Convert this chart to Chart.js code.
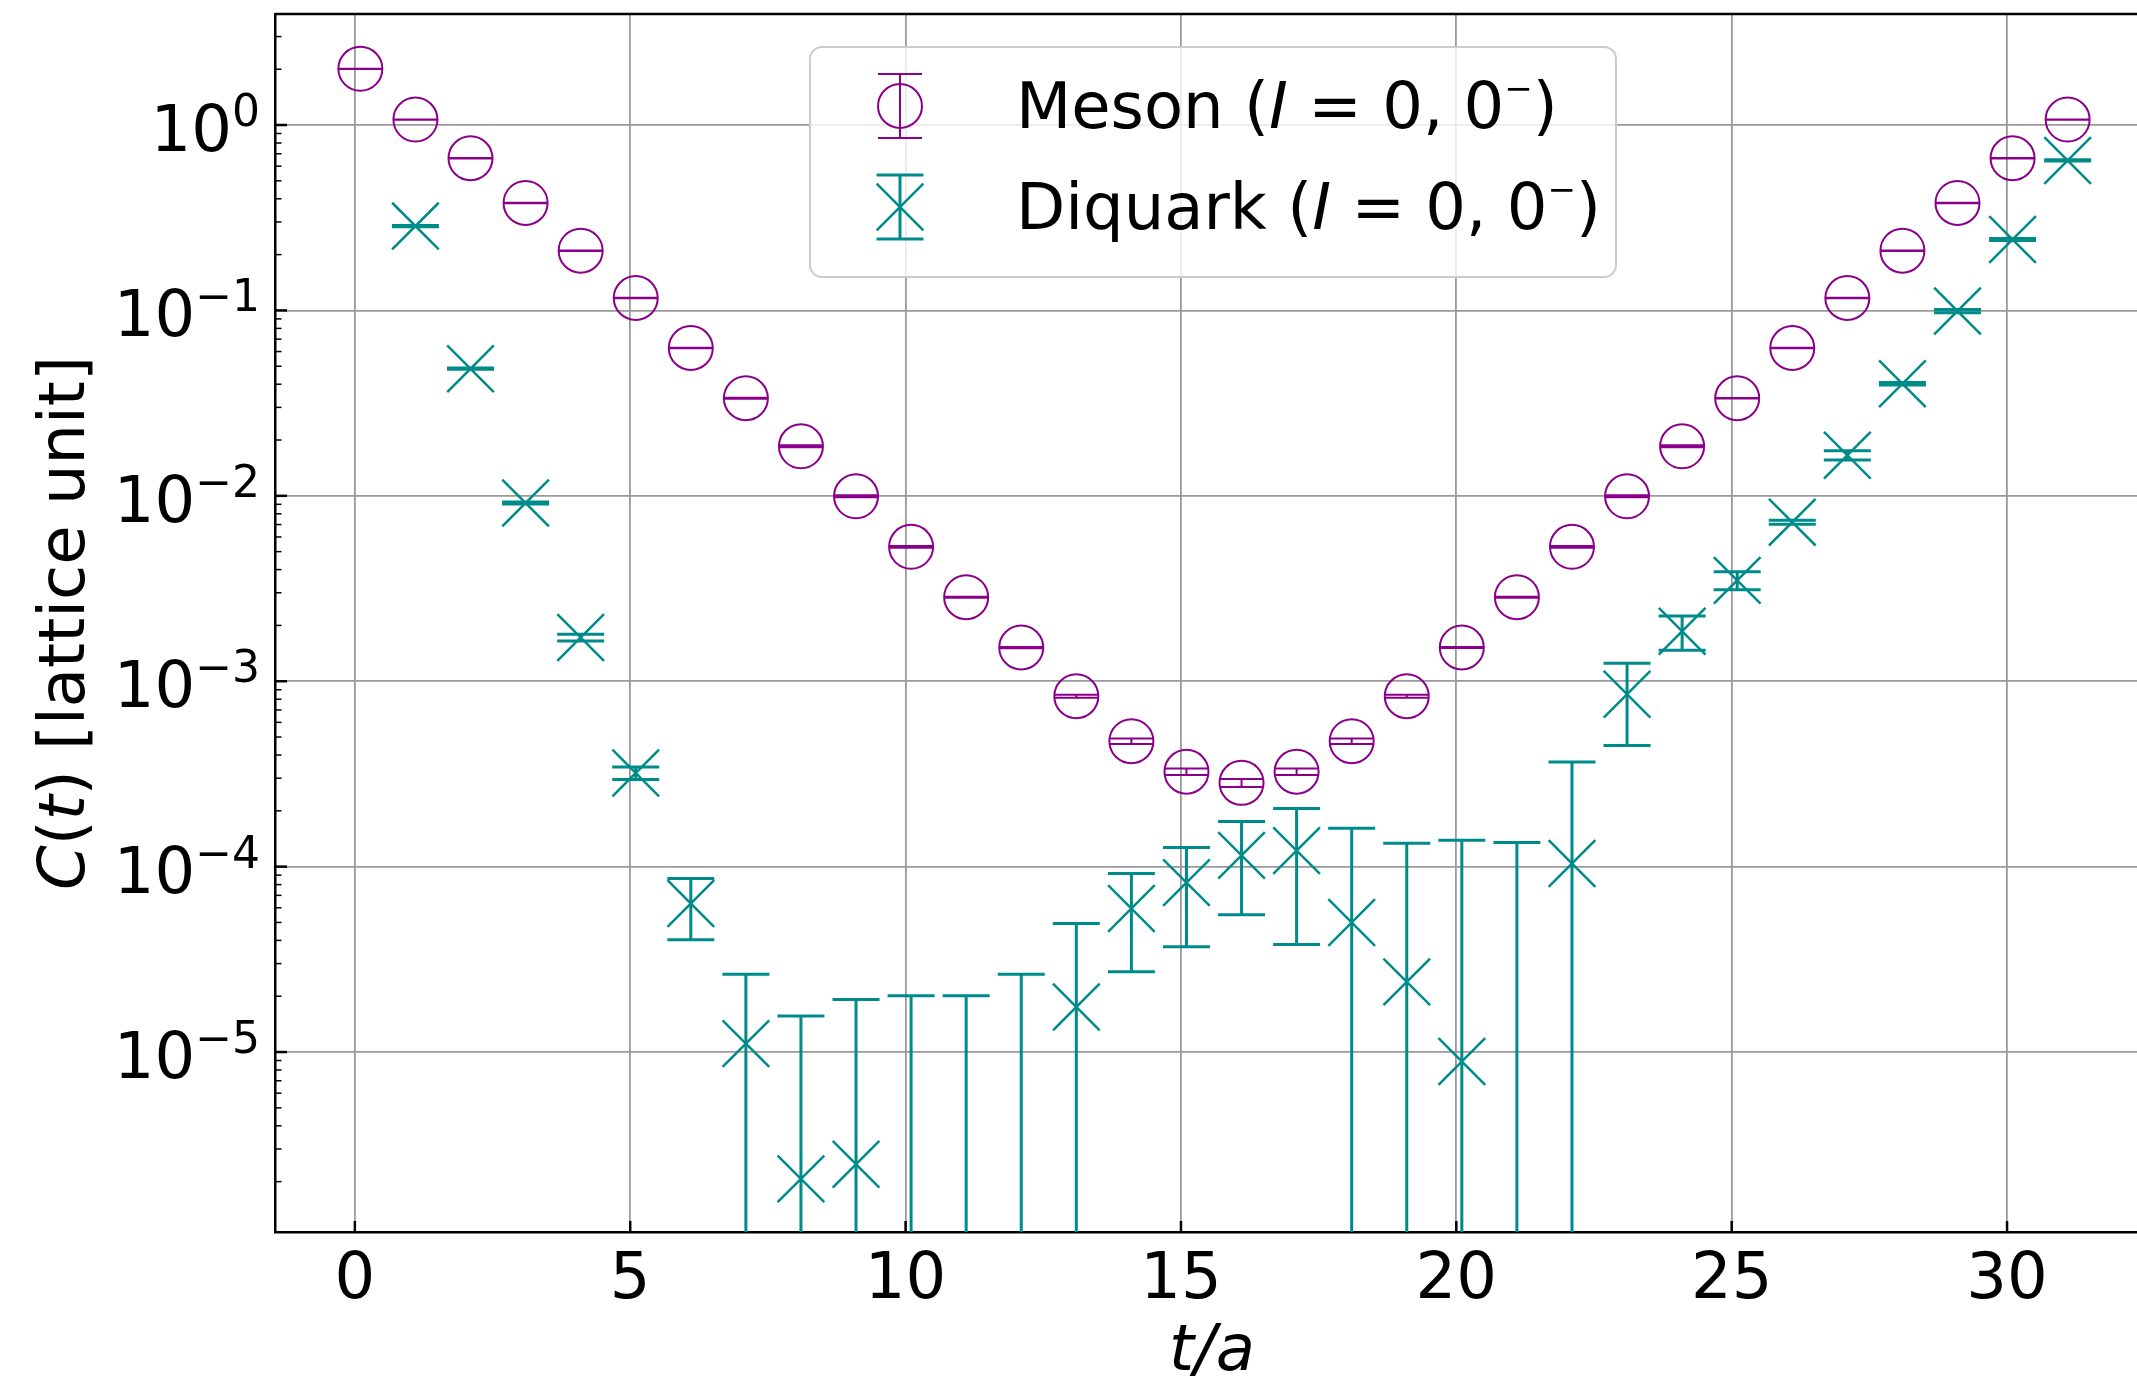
<!DOCTYPE html>
<html>
<head>
<meta charset="utf-8">
<script src="https://cdn.jsdelivr.net/npm/chart.js@4.4.1/dist/chart.umd.min.js"></script>
<style>
    html, body { margin: 0; padding: 0; background: #fff; overflow: hidden; }
    #wrap { width: 2160px; height: 1378px; }
</style>
</head>
<body>
<div id="wrap"><canvas id="corr" width="2160" height="1378"></canvas></div>
<script>
// correlator data (points sit a tenth right of each integer t)

const tSlices = [0.1, 1.1, 2.1, 3.1, 4.1, 5.1, 6.1, 7.1, 8.1, 9.1, 10.1, 11.1, 12.1, 13.1, 14.1, 15.1,
    16.1, 17.1, 18.1, 19.1, 20.1, 21.1, 22.1, 23.1, 24.1, 25.1, 26.1, 27.1, 28.1, 29.1, 30.1, 31.1];

const mesonC = [2.01, 1.07, 0.662, 0.380, 0.210, 0.1167, 0.0627, 0.0336, 0.0185, 0.00994, 0.00531, 0.00284,
    0.00152, 0.00083, 0.000475, 0.000325, 0.000283, 0.000325, 0.000475, 0.00083, 0.00152, 0.00284,
    0.00531, 0.00994, 0.0185, 0.0336, 0.0627, 0.1167, 0.210, 0.380, 0.662, 1.07];
const mesonErr = [0.004, 0.002, 0.0013, 0.0011, 0.0006, 0.0005, 0.00025, 0.0002, 0.00022, 0.00012, 0.00006,
    0.000017, 0.000012, 0.000015, 0.000016, 0.0000133, 0.0000142, 0.0000133, 0.000016, 0.000015,
    0.000009, 0.000017, 0.00006, 0.00012, 0.00022, 0.00013, 0.00025, 0.0005, 0.0006, 0.0011, 0.0013, 0.002];

const diquarkC = [null, 0.285, 0.0485, 0.00914, 0.00172, 0.00032, 6.33e-5, 1.11e-5, 2.07e-6, 2.48e-6,
    5e-7, 5e-7, 5e-7, 1.75e-5, 5.95e-5, 8.2e-5, 1.15e-4, 1.22e-4, 5.0e-5, 2.39e-5, 8.9e-6, 5e-7,
    1.04e-4, 8.5e-4, 1.86e-3, 3.5e-3, 7.21e-3, 1.656e-2, 4.02e-2, 9.93e-2, 0.2415, 0.644];
const diquarkErr = [null, 0.002, 0.0004, 0.00011, 0.00007, 0.000025, 2.3e-5, 1.52e-5, 1.36e-5, 1.67e-5,
    1.96e-5, 1.96e-5, 2.58e-5, 3.19e-5, 3.24e-5, 4.5e-5, 6.0e-5, 8.4e-5, 1.11e-4, 1.10e-4, 1.30e-4,
    1.345e-4, 2.63e-4, 4.0e-4, 3.9e-4, 3.9e-4, 1.8e-4, 9.4e-4, 6e-4, 2e-3, 3e-3, 5e-3];

const seriesNames = ['Meson', 'Diquark'];
const xTicks = [0, 5, 10, 15, 20, 25, 30];
const yDecades = [-6, -5, -4, -3, -2, -1, 0];

const PURPLE = '#8b008b';
const TEAL = '#008b8b';
const FONT = '"DejaVu Sans", sans-serif';

function font(size, italic) {
    return (italic ? 'italic ' : '') + size + 'px ' + FONT;
}

// draw a run of text pieces: [text, size, italic, rise]
function drawParts(ctx, x, y, parts, align) {
    let w = 0;
    parts.forEach(p => { ctx.font = font(p[1], p[2]); w += ctx.measureText(p[0]).width; });
    let cx = align === 'right' ? x - w : (align === 'center' ? x - w / 2 : x);
    parts.forEach(p => {
        ctx.font = font(p[1], p[2]);
        ctx.fillText(p[0], cx, y - (p[3] || 0));
        cx += ctx.measureText(p[0]).width;
    });
}

function points(xs, ys) {
    return xs.map((x, i) => ({ x: x, y: ys[i] }));
}

// error bars with caps, drawn just before each dataset's markers
const errorBars = {
    id: 'errorBars',
    beforeDatasetDraw(chart, args) {
        const ds = chart.data.datasets[args.index];
        const xs = chart.scales.x, ys = chart.scales.y;
        const area = chart.chartArea;
        const ctx = chart.ctx;
        ctx.save();
        ctx.beginPath();
        ctx.rect(area.left, area.top, area.right - area.left, area.bottom - area.top);
        ctx.clip();
        ctx.strokeStyle = ds.borderColor;
        ctx.lineWidth = ds.errWidth;
        ds.data.forEach((p, i) => {
            if (p.y == null) return;
            const e = ds.yErr[i];
            const px = xs.getPixelForValue(p.x);
            const hi = ys.getPixelForValue(p.y + e);
            const loOk = p.y - e > 0;
            const lo = loOk ? ys.getPixelForValue(p.y - e) : area.bottom + 20;
            ctx.beginPath();
            ctx.moveTo(px, hi);
            ctx.lineTo(px, lo);
            ctx.moveTo(px - ds.capHalf, hi);
            ctx.lineTo(px + ds.capHalf, hi);
            if (loOk) {
                ctx.moveTo(px - ds.capHalf, lo);
                ctx.lineTo(px + ds.capHalf, lo);
            }
            ctx.stroke();
        });
        ctx.restore();
    }
};

function drawSymbol(ctx, ds, x, y) {
    ctx.save();
    ctx.strokeStyle = ds.borderColor;
    ctx.fillStyle = 'rgba(0,0,0,0)';
    ctx.lineWidth = ds.errWidth;
    ctx.beginPath();
    ctx.moveTo(x, y - 32);
    ctx.lineTo(x, y + 32);
    ctx.moveTo(x - ds.capHalf, y - 32);
    ctx.lineTo(x + ds.capHalf, y - 32);
    ctx.moveTo(x - ds.capHalf, y + 32);
    ctx.lineTo(x + ds.capHalf, y + 32);
    ctx.stroke();
    ctx.lineWidth = ds.pointBorderWidth;
    Chart.helpers.drawPoint(ctx, {
        pointStyle: ds.pointStyle, rotation: 0, radius: ds.pointRadius, borderWidth: ds.pointBorderWidth
    }, x, y);
    ctx.restore();
}

// spines, inward ticks, tick labels, axis titles and legend
const frame = {
    id: 'frame',
    afterDraw(chart) {
        const ctx = chart.ctx;
        const area = chart.chartArea;
        const xs = chart.scales.x, ys = chart.scales.y;
        ctx.save();

        // top / right spines
        ctx.strokeStyle = '#000';
        ctx.lineWidth = 2.5;
        ctx.beginPath();
        ctx.moveTo(area.left, area.top);
        ctx.lineTo(area.right, area.top);
        ctx.lineTo(area.right, area.bottom);
        ctx.stroke();

        // inward ticks
        ys.ticks.forEach(t => {
            const py = ys.getPixelForValue(t.value);
            ctx.lineWidth = t.major ? 2.5 : 1.5;
            ctx.beginPath();
            ctx.moveTo(area.left, py);
            ctx.lineTo(area.left + (t.major ? 12 : 6.5), py);
            ctx.stroke();
        });
        xTicks.forEach(v => {
            const px = xs.getPixelForValue(v);
            ctx.lineWidth = 2.5;
            ctx.beginPath();
            ctx.moveTo(px, area.bottom);
            ctx.lineTo(px, area.bottom - 11);
            ctx.stroke();
        });

        // tick labels
        ctx.fillStyle = '#000';
        ctx.textAlign = 'left';
        ctx.textBaseline = 'alphabetic';
        yDecades.forEach(e => {
            const v = Math.pow(10, e);
            if (v < ys.min || v > ys.max) return;
            const py = ys.getPixelForValue(v);
            const sup = e < 0 ? '\u2212' + (-e) : String(e);
            drawParts(ctx, area.left - 15, py + 26, [['10', 64], [sup, 44, false, 25]], 'right');
        });
        xTicks.forEach(v => {
            drawParts(ctx, xs.getPixelForValue(v), area.bottom + 66, [[String(v), 64]], 'center');
        });

        // axis titles
        drawParts(ctx, (area.left + area.right) / 2 - 2, 1370, [['t/a', 64, true]], 'center');
        ctx.save();
        ctx.translate(84, (area.top + area.bottom) / 2);
        ctx.rotate(-Math.PI / 2);
        drawParts(ctx, 0, 0, [['C', 64, true], ['(', 64], ['t', 64, true], [') [lattice unit]', 64]], 'center');
        ctx.restore();

        // legend
        const bx = 810, by = 47, bw = 806, bh = 230;
        ctx.beginPath();
        ctx.roundRect(bx, by, bw, bh, 12);
        ctx.fillStyle = 'rgba(255,255,255,0.8)';
        ctx.fill();
        ctx.strokeStyle = '#cccccc';
        ctx.lineWidth = 2;
        ctx.stroke();
        const rows = [106, 207];
        chart.data.datasets.forEach((ds, i) => {
            drawSymbol(ctx, ds, 900, rows[i]);
            ctx.fillStyle = '#000';
            drawParts(ctx, 1016, rows[i] + 22, [
                [ds.label + ' (', 64], ['I', 64, true], [' = 0, 0', 64], ['\u2212', 34, false, 28], [')', 64]
            ], 'left');
        });

        ctx.restore();
    }
};

const ctxCorr = document.getElementById('corr').getContext('2d');

new Chart(ctxCorr, {
    type: 'scatter',
    data: {
        datasets: [{
            label: seriesNames[0],
            data: points(tSlices, mesonC),
            yErr: mesonErr,
            borderColor: PURPLE,
            backgroundColor: 'rgba(0,0,0,0)',
            pointStyle: 'circle',
            pointRadius: 22,
            pointBorderWidth: 2,
            errWidth: 2,
            capHalf: 22,
            showLine: false
        }, {
            label: seriesNames[1],
            data: points(tSlices, diquarkC),
            yErr: diquarkErr,
            borderColor: TEAL,
            backgroundColor: 'rgba(0,0,0,0)',
            pointStyle: 'crossRot',
            pointRadius: 33,
            pointBorderWidth: 2.5,
            errWidth: 3,
            capHalf: 23.5,
            showLine: false
        }]
    },
    options: {
        responsive: false,
        animation: false,
        events: [],
        layout: {
            autoPadding: false,
            padding: { left: 275, top: 14, right: 7, bottom: 146 }
        },
        plugins: {
            legend: { display: false },
            tooltip: { enabled: false }
        },
        scales: {
            x: {
                type: 'linear',
                min: -1.45,
                max: 32.65,
                bounds: 'data',
                afterBuildTicks: scale => {
                    scale.ticks = xTicks.map(v => ({ value: v }));
                },
                ticks: { display: false },
                grid: { color: '#9a9a9a', lineWidth: 1.8, drawTicks: false },
                border: { display: true, color: '#000', width: 2.5 }
            },
            y: {
                type: 'logarithmic',
                min: 1.07e-6,
                max: 3.97,
                bounds: 'data',
                afterBuildTicks: scale => {
                    const ticks = [];
                    yDecades.forEach(e => {
                        for (let m = 1; m <= 9; m++) {
                            const v = m * Math.pow(10, e);
                            if (v >= scale.min && v <= scale.max) ticks.push({ value: v, major: m === 1 });
                        }
                    });
                    scale.ticks = ticks;
                },
                ticks: { display: false },
                grid: {
                    color: c => (c.tick && c.tick.major ? '#9a9a9a' : 'rgba(0,0,0,0)'),
                    lineWidth: 1.8,
                    drawTicks: false
                },
                border: { display: true, color: '#000', width: 2.5 }
            }
        }
    },
    plugins: [errorBars, frame]
});
</script>
</body>
</html>
